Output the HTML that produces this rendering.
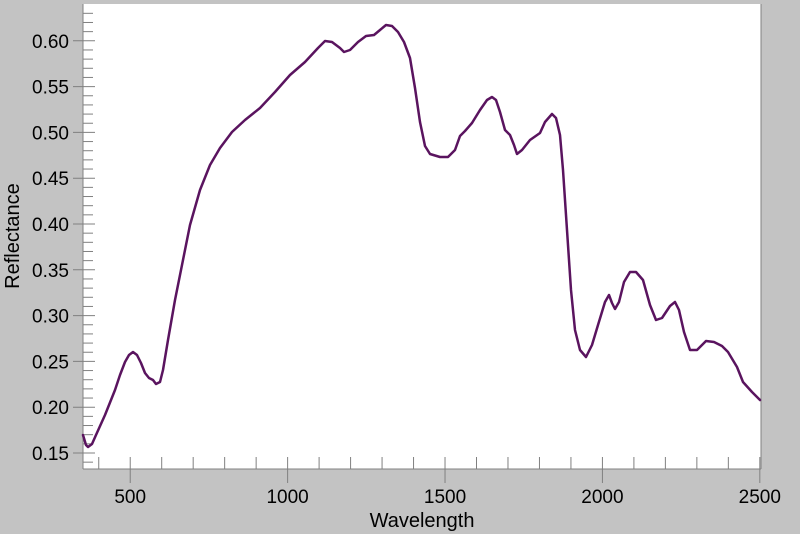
<!DOCTYPE html>
<html><head><style>html,body{margin:0;padding:0;background:#c3c3c3;}svg{display:block}</style></head>
<body>
<svg width="800" height="534" xmlns="http://www.w3.org/2000/svg" font-family="Liberation Sans, Arial, sans-serif">
<rect width="800" height="534" fill="#c3c3c3"/>
<rect x="83" y="4" width="678" height="465" fill="#fff"/>
<g stroke="#808080" stroke-width="1">
<line x1="83" y1="4" x2="83" y2="469"/>
<line x1="83" y1="469" x2="761" y2="469"/>
<line x1="761" y1="4" x2="761" y2="469"/>
</g>
<g id="yt" stroke="#808080" stroke-width="1"></g>
<g id="xt" stroke="#808080" stroke-width="1"></g>
<g id="yl" font-size="19" fill="#000" text-anchor="end"></g>
<g id="xl" font-size="19" fill="#000" text-anchor="middle"></g>
<text x="19" y="236" font-size="20" text-anchor="middle" transform="rotate(-90 19 236)">Reflectance</text>
<text x="422" y="527" font-size="20" text-anchor="middle">Wavelength</text>
<polyline fill="none" stroke="#5a145f" stroke-width="2.5" stroke-linejoin="round" stroke-linecap="round" points="83,435 86,445 88,447 92,444 96,435 105,415 115,390 120,375 125,362 129,355 133,352 137,355 141,363 145,373 149,378 153,380 156,384 160,382 163,370 168,340 175,300 183,260 190,225 200,190 210,165 220,148 232,132 245,120 260,108 275,92 290,75 305,62 318,48 325,41 332,42 340,48 344,52 350,50 358,42 366,36 374,35 380,30 386,25 392,26 398,32 404,42 410,58 415,88 420,122 425,146 430,154 440,157 448,157 455,150 460,136 465,131 472,123 480,110 487,100 492,97 496,100 500,112 505,130 510,135 514,145 517,154 522,150 530,140 540,133 545,122 552,114 556,118 560,135 563,170 567,230 571,290 575,330 580,350 586,357 592,345 598,325 605,302 609,295 612,303 615,309 619,302 624,282 630,272 636,272 643,280 650,305 656,320 662,318 670,306 675,302 679,310 684,332 690,350 697,350 706,341 714,342 722,346 728,352 737,367 743,382 752,392 760,400"/>
<script>
var ns="http://www.w3.org/2000/svg";
function L(g,x1,y1,x2,y2){var l=document.createElementNS(ns,"line");l.setAttribute("x1",x1);l.setAttribute("y1",y1);l.setAttribute("x2",x2);l.setAttribute("y2",y2);document.getElementById(g).appendChild(l);}
function T(g,x,y,s){var t=document.createElementNS(ns,"text");t.setAttribute("x",x);t.setAttribute("y",y);t.textContent=s;document.getElementById(g).appendChild(t);}
for(var i=14;i<=63;i++){var r=i/100;var y=453-(r-0.15)*916;if(y<5||y>468)continue;
 if(i%5==0){L("yt",73,y,95,y);T("yl",69,y+7,r.toFixed(2));}else L("yt",83,y,93,y);}
for(var w=400;w<=2500;w+=100){var x=83+(w-350)*0.3148;
 if(w%500==0){L("xt",x,457,x,483);T("xl",x,503,w);}else L("xt",x,457,x,469);}
</script>
</svg>
</body></html>
